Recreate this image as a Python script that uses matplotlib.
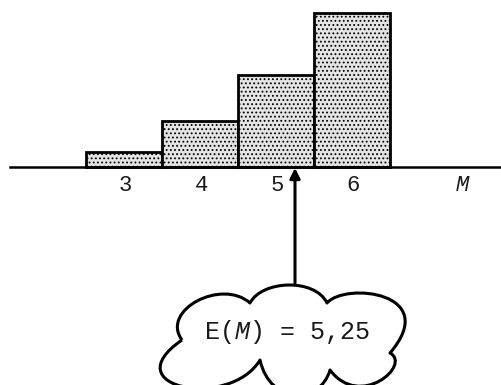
import matplotlib
matplotlib.use('Agg')
from matplotlib import pyplot as plt
from matplotlib.patches import PathPatch
from matplotlib.path import Path
import numpy as np

# distribution of M
m_values = [3, 4, 5, 6]
probs = [0.05, 0.15, 0.30, 0.50]
tick_labels = ['3', '4', '5', '6']
axis_name = 'M'
mean_label = r'E($\mathit{M}$) = 5,25'
mean = sum(m * p for m, p in zip(m_values, probs))

mono = ['Liberation Mono', 'DejaVu Sans Mono']
plt.rcParams['hatch.color'] = '#9a9a9a'
plt.rcParams['hatch.linewidth'] = 0.8
plt.rcParams['mathtext.fontset'] = 'custom'
plt.rcParams['mathtext.it'] = 'Liberation Mono:italic'
plt.rcParams['mathtext.rm'] = 'Liberation Mono'

fig = plt.figure(figsize=(5.02, 3.85), dpi=100)
ax = fig.add_axes([0, 0, 1, 1])
ax.set_xlim(5 - 276 / 76, 5 + 226 / 76)
ax.set_ylim(-(385 - 167) / 308, 167 / 308)
ax.axis('off')

ax.bar(m_values, probs, width=1.0, facecolor='#e4e4e4', edgecolor='black',
       linewidth=2, hatch='....', zorder=2)

# horizontal axis line
ax.plot([5 - 266 / 76, 5 + 226 / 76], [0, 0], color='black', lw=1.8, zorder=3)

for m, lab in zip(m_values, tick_labels):
    ax.text(m + 0.02, -0.06, lab, ha='center', va='center', fontsize=16,
            family=mono, color='#1a1a1a')
ax.text(5 + 186 / 76, -0.06, axis_name, ha='center', va='center', fontsize=16,
        family=mono, style='italic', color='#1a1a1a')

# arrow from the cloud up to the mean
cloud_top = -(283 - 167) / 308
ax.annotate('', xy=(mean, -0.003), xytext=(mean, cloud_top),
            arrowprops=dict(arrowstyle='-|>', lw=2.2, color='black',
                            mutation_scale=15, shrinkA=0, shrinkB=0), zorder=4)

# cloud outline, drawn in pixel coordinates, one cubic bezier per lobe
cax = fig.add_axes([0, 0, 1, 1])
cax.set_xlim(0, 502)
cax.set_ylim(385, 0)
cax.axis('off')
cax.patch.set_alpha(0)
lobes = [
    [(182, 340), (160, 310), (222, 278), (250, 303)],
    [(250, 303), (262, 280), (315, 278), (327, 303)],
    [(327, 303), (345, 282), (442, 292), (390, 353)],
    [(390, 353), (412, 365), (360, 410), (330, 370)],
    [(330, 370), (320, 405), (270, 405), (260, 360)],
    [(260, 360), (230, 410), (112, 388), (182, 340)],
]
verts = [lobes[0][0]]
codes = [Path.MOVETO]
for lb in lobes:
    verts += lb[1:]
    codes += [Path.CURVE4] * 3
cax.add_patch(PathPatch(Path(verts, codes), facecolor='white', edgecolor='black',
                        lw=2.2, joinstyle='round', zorder=1))
cax.text(287, 332, mean_label, ha='center', va='center', fontsize=18,
         family=mono, color='#1a1a1a', zorder=3)

fig.savefig('out.png', dpi=100)
